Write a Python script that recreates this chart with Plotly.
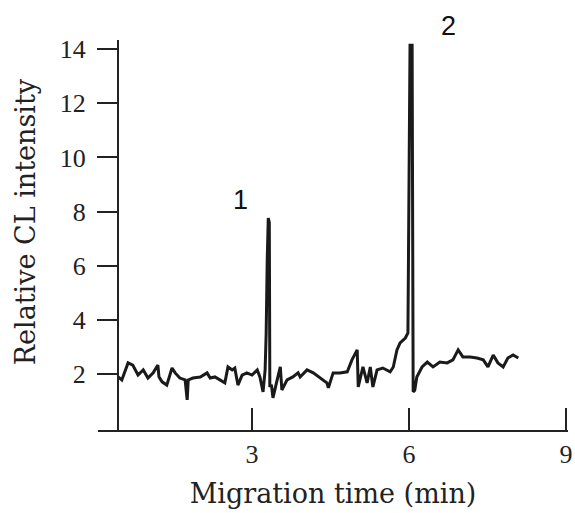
"""Electropherogram: relative CL intensity vs migration time."""
import plotly.graph_objects as go

# migration time (min) and relative CL intensity
time_min = [
    0.44, 0.51, 0.63, 0.72, 0.82, 0.92, 1.01, 1.11, 1.20, 1.22, 1.28, 1.37,
    1.47, 1.53, 1.62, 1.72, 1.76, 1.78, 1.87, 2.01, 2.14, 2.20, 2.29, 2.39,
    2.48, 2.54, 2.62, 2.67, 2.73, 2.81, 2.90, 3.00, 3.10, 3.15, 3.21, 3.25,
    3.27, 3.29, 3.31, 3.33, 3.34, 3.37, 3.40, 3.48, 3.54, 3.57, 3.67, 3.78,
    3.88, 3.92, 4.05, 4.17, 4.30, 4.43, 4.46, 4.55, 4.68, 4.82, 4.91, 5.01,
    5.03, 5.12, 5.20, 5.26, 5.31, 5.39, 5.50, 5.64, 5.70, 5.77, 5.83, 5.93,
    5.98, 6.02, 6.06, 6.08, 6.11, 6.15, 6.25, 6.35, 6.46, 6.59, 6.73, 6.84,
    6.94, 7.03, 7.17, 7.30, 7.42, 7.51, 7.61, 7.70, 7.80, 7.89, 7.99, 8.09,
]
intensity = [
    1.89, 1.78, 2.41, 2.33, 1.96, 2.15, 1.85, 2.04, 2.33, 1.90, 1.71, 1.59,
    2.22, 2.04, 1.85, 1.78, 1.04, 1.78, 1.85, 1.89, 2.04, 1.85, 1.89, 1.78,
    1.67, 2.26, 2.15, 2.22, 1.59, 1.96, 2.04, 1.96, 2.15, 1.89, 1.34, 2.15,
    3.50, 6.20, 7.76, 7.60, 1.52, 1.60, 1.12, 1.78, 2.26, 1.41, 1.78, 1.89,
    2.04, 1.89, 2.15, 2.04, 1.85, 1.67, 1.49, 2.04, 2.04, 2.08, 2.52, 2.89,
    1.52, 2.26, 1.67, 2.26, 1.52, 2.15, 2.22, 2.08, 2.26, 2.89, 3.15, 3.33,
    3.52, 14.15, 14.15, 1.34, 1.40, 1.89, 2.26, 2.44, 2.26, 2.44, 2.41, 2.52,
    2.89, 2.63, 2.63, 2.59, 2.52, 2.26, 2.70, 2.41, 2.26, 2.59, 2.70, 2.59,
]

x_ticks = [3, 6, 9]
y_ticks = [2, 4, 6, 8, 10, 12, 14]

peak_labels = ["1", "2"]
peak_label_x = [2.77, 6.75]
peak_label_y = [8.42, 14.85]

x_range = [0.055, 9.04]
y_range = [-0.07, 14.34]

serif = "Liberation Serif, Times New Roman, serif"
wide_serif = "DejaVu Serif, serif"

fig = go.Figure()
fig.add_trace(go.Scatter(
    x=time_min, y=intensity, mode="lines",
    line=dict(color="#1a1a1a", width=3),
    showlegend=False,
))

# labels sit partly above the axis range, so place them in paper units
for label, lx, ly in zip(peak_labels, peak_label_x, peak_label_y):
    fig.add_annotation(
        x=lx, xref="x",
        y=(ly - y_range[0]) / (y_range[1] - y_range[0]), yref="paper",
        xanchor="center", yanchor="middle",
        text=label, showarrow=False,
        font=dict(family="Liberation Sans, Arial, sans-serif", size=27,
                  color="#111"),
    )

# y title as a rotated annotation so it can sit far left
fig.add_annotation(
    x=-0.155, xref="paper", y=0.533, yref="paper",
    xanchor="center", yanchor="middle", textangle=-90,
    text="Relative CL intensity", showarrow=False,
    font=dict(family=wide_serif, size=27, color="#222"),
)

fig.update_layout(
    width=575, height=513,
    margin=dict(l=98, r=7, t=40, b=83),
    paper_bgcolor="white", plot_bgcolor="white",
    xaxis=dict(
        range=x_range, tickvals=x_ticks,
        ticks="inside", ticklen=22, tickwidth=2, tickcolor="#222",
        showline=True, linecolor="#222", linewidth=2,
        showgrid=False, zeroline=False,
        tickfont=dict(family=serif, size=26, color="#222"),
        title=dict(text="Migration time (min)", standoff=16,
                   font=dict(family=wide_serif, size=27, color="#222")),
        automargin=False,
    ),
    yaxis=dict(
        range=y_range, tickvals=y_ticks,
        anchor="free", position=0.0426,
        ticks="outside", ticklen=20, tickwidth=2, tickcolor="#222",
        ticklabelstandoff=6,
        showline=True, linecolor="#222", linewidth=2,
        showgrid=False, zeroline=False,
        tickfont=dict(family=serif, size=26, color="#222"),
        automargin=False,
    ),
)

fig.write_html(
    "out.html",
    config={"displayModeBar": False},
    post_script="document.body.style.margin='0';"
                "document.body.style.overflow='hidden';",
)
